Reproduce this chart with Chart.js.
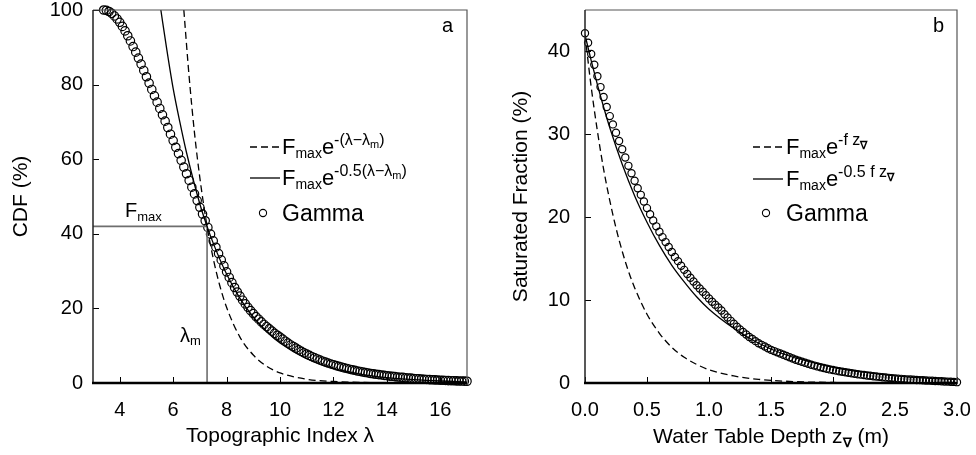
<!DOCTYPE html>
<html>
<head>
<meta charset="utf-8">
<script src="https://cdn.jsdelivr.net/npm/chart.js@4.4.0/dist/chart.umd.min.js"></script>
<style>
  body { margin: 0; background: #fff; width: 976px; height: 455px; overflow: hidden; position: relative; }
  .panel { position: absolute; top: 0; width: 488px; height: 455px; }
</style>
</head>
<body>
<div class="panel" style="left:0"><canvas id="chartA" width="488" height="455"></canvas></div>
<div class="panel" style="left:488px"><canvas id="chartB" width="488" height="455"></canvas></div>
<script>
// ---- panel a : CDF against topographic index ----
const lamTicks = [4, 6, 8, 10, 12, 14, 16];
const cdfTicks = [0, 20, 40, 60, 80, 100];

const gammaLamX = [3.4,3.5,3.6,3.7,3.8,3.9,4.0,4.1,4.2,4.3,4.4,4.5,4.6,4.7,4.8,4.9,5.0,5.1,5.2,5.3,5.4,5.5,5.6,5.7,5.8,5.9,
  6.0,6.1,6.2,6.3,6.4,6.5,6.6,6.7,6.8,6.9,7.0,7.1,7.2,7.3,7.4,7.5,7.6,7.7,7.8,7.9,8.0,8.1,8.2,8.3,8.4,8.5,8.6,8.7,8.8,8.9,
  9.0,9.1,9.2,9.3,9.4,9.5,9.6,9.7,9.8,9.9,10.0,10.1,10.2,10.3,10.4,10.5,10.6,10.7,10.8,10.9,11.0,11.1,11.2,11.3,11.4,11.5,
  11.6,11.7,11.8,11.9,12.0,12.1,12.2,12.3,12.4,12.5,12.6,12.7,12.8,12.9,13.0,13.1,13.2,13.3,13.4,13.5,13.6,13.7,13.8,13.9,
  14.0,14.1,14.2,14.3,14.4,14.5,14.6,14.7,14.8,14.9,15.0,15.1,15.2,15.3,15.4,15.5,15.6,15.7,15.8,15.9,16.0,16.1,16.2,16.3,
  16.4,16.5,16.6,16.7,16.8,16.9,17.0];
const gammaCdf = [100.0,99.9,99.6,99.1,98.4,97.6,96.7,95.6,94.4,93.1,91.7,90.2,88.7,87.1,85.5,83.8,82.1,80.4,78.7,77.0,75.3,73.6,71.9,70.2,68.5,66.7,
  65.0,63.2,61.5,59.7,57.9,56.1,54.3,52.5,50.7,48.9,47.1,45.3,43.5,41.7,39.9,38.1,36.4,34.7,33.0,31.4,29.8,28.3,26.9,25.6,24.4,23.3,22.2,21.2,20.3,19.4,
  18.6,17.8,17.1,16.4,15.7,15.1,14.5,13.9,13.3,12.8,12.3,11.75,11.2,10.7,10.2,9.8,9.35,8.9,8.5,8.1,7.75,7.4,7.05,6.75,6.45,6.15,
  5.85,5.6,5.35,5.1,4.9,4.65,4.45,4.25,4.05,3.9,3.7,3.55,3.4,3.2,3.1,2.95,2.8,2.7,2.55,2.45,2.35,2.25,2.15,2.05,
  1.95,1.85,1.8,1.7,1.6,1.55,1.5,1.4,1.35,1.3,1.2,1.15,1.1,1.05,1.0,0.95,0.9,0.87,0.83,0.8,0.75,0.72,0.68,0.65,
  0.62,0.6,0.57,0.54,0.52,0.5,0.47];

const expLamX = [6.4,6.6,6.8,7.0,7.27,7.5,7.75,8.0,8.5,9.0,9.5,10,11,12,13,14,15,17];
const expLamY = [100,82,67,55,42,33.4,26,20.3,12.3,7.5,4.5,2.7,1.0,0.4,0.15,0.05,0.02,0];
const halfLamX = [5.54,5.75,6.0,6.25,6.5,7.0,7.27,7.5,8,8.5,9,9.5,10,11,12,13,14,15,16,17];
const halfLamY = [100,90,79,70,61.8,48,42,37.5,29.2,22.7,17.7,13.8,10.7,6.5,3.95,2.4,1.45,0.88,0.53,0.32];

// F_max / lambda_m guide lines
const guideX = [3, 7.27, 7.27];
const guideY = [42, 42, 0];

// ---- panel b : saturated fraction against water table depth ----
const depthTicks = [0, 0.5, 1.0, 1.5, 2.0, 2.5, 3.0];
const satTicks = [0, 10, 20, 30, 40];

const gammaDepthX = [0,0.025,0.05,0.075,0.1,0.125,0.15,0.175,0.2,0.225,0.25,0.275,0.3,0.325,0.35,0.375,0.4,0.425,0.45,0.475,
  0.5,0.525,0.55,0.575,0.6,0.625,0.65,0.675,0.7,0.725,0.75,0.775,0.8,0.825,0.85,0.875,0.9,0.925,0.95,0.975,
  1.0,1.025,1.05,1.075,1.1,1.125,1.15,1.175,1.2,1.225,1.25,1.275,1.3,1.325,1.35,1.375,1.4,1.425,1.45,1.475,
  1.5,1.525,1.55,1.575,1.6,1.625,1.65,1.675,1.7,1.725,1.75,1.775,1.8,1.825,1.85,1.875,1.9,1.925,1.95,1.975,
  2.0,2.025,2.05,2.075,2.1,2.125,2.15,2.175,2.2,2.225,2.25,2.275,2.3,2.325,2.35,2.375,2.4,2.425,2.45,2.475,
  2.5,2.525,2.55,2.575,2.6,2.625,2.65,2.675,2.7,2.725,2.75,2.775,2.8,2.825,2.85,2.875,2.9,2.925,2.95,2.975,3.0];
const gammaSat = [42.2,41.05,39.7,38.4,37.0,35.7,34.5,33.3,32.2,31.2,30.2,29.2,28.2,27.2,26.2,25.3,24.4,23.5,22.7,21.9,
  21.1,20.35,19.6,18.9,18.25,17.6,17.0,16.4,15.8,15.2,14.7,14.15,13.65,13.15,12.7,12.25,11.8,11.4,11.0,10.6,
  10.2,9.8,9.45,9.1,8.75,8.3,7.9,7.5,7.15,6.8,6.45,6.15,5.85,5.55,5.3,5.05,4.8,4.6,4.4,4.2,
  4.0,3.85,3.7,3.55,3.4,3.25,3.1,2.95,2.8,2.68,2.56,2.44,2.32,2.2,2.1,2.0,1.9,1.81,1.72,1.64,
  1.56,1.49,1.42,1.35,1.29,1.23,1.17,1.11,1.06,1.01,0.96,0.91,0.87,0.82,0.78,0.74,0.7,0.66,0.62,0.59,
  0.56,0.53,0.5,0.47,0.44,0.42,0.39,0.37,0.35,0.33,0.31,0.29,0.27,0.25,0.23,0.21,0.19,0.17,0.15,0.13,0.1];

const expDepthX = [0,0.05,0.1,0.15,0.2,0.25,0.3,0.35,0.4,0.5,0.6,0.7,0.8,0.9,1.0,1.2,1.4,1.6,1.8,2.0,2.5,3.0];
const expDepthY = [42,35.7,30.4,25.8,22.0,18.7,15.9,13.5,11.5,8.3,6.0,4.3,3.1,2.25,1.6,0.85,0.44,0.23,0.12,0.06,0.01,0];
const halfDepthX = [0,0.05,0.1,0.15,0.2,0.3,0.4,0.5,0.6,0.7,0.8,0.9,1.0,1.2,1.4,1.6,1.8,2.0,2.25,2.5,2.75,3.0];
const halfDepthY = [42,38.9,36.0,33.3,30.8,26.4,22.6,19.4,16.6,14.2,12.2,10.4,8.9,6.6,4.8,3.5,2.6,1.9,1.3,0.87,0.59,0.4];

const FAMILY = '"Liberation Sans", Arial, Helvetica, sans-serif';
const pairs = (xs, ys) => xs.map((x, i) => ({ x: x, y: ys[i] }));

function rich(ctx, x, y, parts) {
  for (const p of parts) {
    ctx.font = (p.b ? 'bold ' : '') + p.s + 'px ' + FAMILY;
    ctx.fillText(p.t, x, y + (p.dy || 0));
    x += ctx.measureText(p.t).width;
  }
  return x;
}
function richWidth(ctx, parts) {
  let w = 0;
  for (const p of parts) {
    ctx.font = (p.b ? 'bold ' : '') + p.s + 'px ' + FAMILY;
    w += ctx.measureText(p.t).width;
  }
  return w;
}

// box round the plot with inward tick marks
const frame = {
  id: 'frame',
  afterDraw(chart) {
    const { ctx, chartArea: a, scales } = chart;
    ctx.save();
    ctx.strokeStyle = '#000';
    ctx.lineWidth = 1;
    ctx.beginPath();
    scales.x.ticks.forEach(t => {
      const px = Math.round(scales.x.getPixelForValue(t.value)) + 0.5;
      ctx.moveTo(px, a.bottom); ctx.lineTo(px, a.bottom - 6);
    });
    scales.y.ticks.forEach(t => {
      const py = Math.round(scales.y.getPixelForValue(t.value)) + 0.5;
      ctx.moveTo(a.left, py); ctx.lineTo(a.left + 6, py);
    });
    ctx.stroke();
    ctx.strokeStyle = '#555';
    ctx.lineWidth = 1.2;
    ctx.beginPath();
    ctx.moveTo(a.left, a.top); ctx.lineTo(a.right, a.top); ctx.lineTo(a.right, a.bottom);
    ctx.stroke();
    ctx.strokeStyle = '#222';
    ctx.lineWidth = 1.5;
    ctx.beginPath();
    ctx.moveTo(a.left, a.top); ctx.lineTo(a.left, a.bottom);
    ctx.stroke();
    ctx.strokeStyle = '#000';
    ctx.lineWidth = 2.5;
    ctx.beginPath();
    ctx.moveTo(a.left - 1, a.bottom); ctx.lineTo(a.right, a.bottom);
    ctx.stroke();
    ctx.restore();
  }
};

// legend rows and annotations with sub/superscripts
const notes = {
  id: 'notes',
  afterDraw(chart, args, o) {
    const ctx = chart.ctx;
    ctx.save();
    ctx.fillStyle = '#000';
    ctx.strokeStyle = '#000';
    ctx.textBaseline = 'alphabetic';
    ctx.textAlign = 'left';
    ctx.lineWidth = 1.3;
    ctx.setLineDash([7, 4]);
    ctx.beginPath(); ctx.moveTo(o.lx, o.rows[0] - 7); ctx.lineTo(o.lx + 30, o.rows[0] - 7); ctx.stroke();
    ctx.setLineDash([]);
    ctx.beginPath(); ctx.moveTo(o.lx, o.rows[1] - 7); ctx.lineTo(o.lx + 30, o.rows[1] - 7); ctx.stroke();
    ctx.lineWidth = 1.1;
    ctx.beginPath(); ctx.arc(o.lx + 13, o.rows[2] - 8, 3.6, 0, Math.PI * 2); ctx.stroke();
    rich(ctx, o.tx, o.rows[0], o.line1);
    rich(ctx, o.tx, o.rows[1], o.line2);
    rich(ctx, o.tx, o.rows[2], [{ t: 'Gamma', s: 23 }]);
    rich(ctx, o.letter[0], o.letter[1], [{ t: o.letter[2], s: 20 }]);
    (o.extra || []).forEach(e => rich(ctx, e.x, e.y, e.parts));
    if (o.xtitle) {
      const w = richWidth(ctx, o.xtitle);
      const cx = (chart.chartArea.left + chart.chartArea.right) / 2;
      rich(ctx, cx - w / 2, o.xtitleY, o.xtitle);
    }
    ctx.restore();
  }
};

const tickFont = { family: FAMILY, size: 20 };
const titleFont = { family: FAMILY, size: 21 };
const noGrid = { display: false, drawTicks: false };

function fixTicks(values) {
  return scale => { scale.ticks = values.map(v => ({ value: v })); };
}
// fixed axis boxes, no extra room for label overflow
function fitX(h) {
  return s => { s.height = h; s.paddingLeft = 0; s.paddingRight = 0; };
}
function fitY(w) {
  return s => { s.width = w; s.paddingTop = 0; s.paddingBottom = 0; };
}

function lineSet(xs, ys, dashed) {
  return {
    data: pairs(xs, ys), showLine: true, borderColor: '#000', borderWidth: 1.3,
    borderDash: dashed ? [7, 4] : [], pointRadius: 0, cubicInterpolationMode: 'monotone'
  };
}
function circleSet(xs, ys, r) {
  return {
    data: pairs(xs, ys), showLine: false, pointRadius: r, pointBorderWidth: 1.2,
    pointBorderColor: '#000', pointBackgroundColor: 'rgba(255,255,255,0)', clip: false
  };
}

new Chart(document.getElementById('chartA'), {
  type: 'scatter',
  data: {
    datasets: [
      lineSet(expLamX, expLamY, true),
      lineSet(halfLamX, halfLamY, false),
      { data: pairs(guideX, guideY), showLine: true, borderColor: '#6e6e6e', borderWidth: 1.6, pointRadius: 0, tension: 0 },
      circleSet(gammaLamX, gammaCdf, 4.2)
    ]
  },
  options: {
    responsive: false, animation: false, events: [],
    layout: { padding: { top: 10, right: 21, left: 0, bottom: 0 } },
    plugins: {
      legend: { display: false }, tooltip: { enabled: false },
      notes: {
        lx: 250, tx: 282, rows: [154, 185, 221], letter: [442, 32, 'a'],
        line1: [{ t: 'F', s: 22 }, { t: 'max', s: 14, dy: 4 }, { t: 'e', s: 22 },
                { t: '-(λ−λ', s: 16, dy: -9 }, { t: 'm', s: 11, dy: -6 }, { t: ')', s: 16, dy: -9 }],
        line2: [{ t: 'F', s: 22 }, { t: 'max', s: 14, dy: 4 }, { t: 'e', s: 22 },
                { t: '-0.5(λ−λ', s: 16, dy: -9 }, { t: 'm', s: 11, dy: -6 }, { t: ')', s: 16, dy: -9 }],
        extra: [
          { x: 125, y: 217, parts: [{ t: 'F', s: 20 }, { t: 'max', s: 13, dy: 4 }] },
          { x: 180, y: 342, parts: [{ t: 'λ', s: 20 }, { t: 'm', s: 13, dy: 3 }] }
        ]
      }
    },
    scales: {
      x: {
        type: 'linear', min: 3, max: 17,
        afterBuildTicks: fixTicks(lamTicks),
        afterFit: fitX(72),
        grid: noGrid, border: { display: false },
        ticks: { font: tickFont, color: '#000', padding: 15, maxRotation: 0 },
        title: { display: true, text: 'Topographic Index λ', font: titleFont, color: '#000', padding: { top: 0, bottom: 6 } }
      },
      y: {
        type: 'linear', min: 0, max: 100,
        afterBuildTicks: fixTicks(cdfTicks),
        afterFit: fitY(93),
        grid: noGrid, border: { display: false },
        ticks: { font: tickFont, color: '#000', padding: 10 },
        title: { display: true, text: 'CDF (%)', font: titleFont, color: '#000', padding: { top: 9, bottom: 0 } }
      }
    }
  },
  plugins: [frame, notes]
});

new Chart(document.getElementById('chartB'), {
  type: 'scatter',
  data: {
    datasets: [
      lineSet(expDepthX, expDepthY, true),
      lineSet(halfDepthX, halfDepthY, false),
      circleSet(gammaDepthX, gammaSat, 3.6)
    ]
  },
  options: {
    responsive: false, animation: false, events: [],
    layout: { padding: { top: 10, right: 19, left: 0, bottom: 0 } },
    plugins: {
      legend: { display: false }, tooltip: { enabled: false },
      notes: {
        lx: 265, tx: 298, rows: [154, 186, 221], letter: [445, 32, 'b'],
        line1: [{ t: 'F', s: 22 }, { t: 'max', s: 14, dy: 4 }, { t: 'e', s: 22 },
                { t: '-f z', s: 16, dy: -9 }, { t: '∇', s: 11, b: true, dy: -5 }],
        line2: [{ t: 'F', s: 22 }, { t: 'max', s: 14, dy: 4 }, { t: 'e', s: 22 },
                { t: '-0.5 f z', s: 16, dy: -9 }, { t: '∇', s: 11, b: true, dy: -5 }],
        xtitle: [{ t: 'Water Table Depth z', s: 21 }, { t: '∇', s: 13, b: true, dy: 4 }, { t: ' (m)', s: 21 }],
        xtitleY: 443
      }
    },
    scales: {
      x: {
        type: 'linear', min: 0, max: 3,
        afterBuildTicks: fixTicks(depthTicks),
        afterFit: fitX(72),
        grid: noGrid, border: { display: false },
        ticks: { font: tickFont, color: '#000', padding: 15, maxRotation: 0, callback: v => v.toFixed(1) },
        title: { display: false }
      },
      y: {
        type: 'linear', min: 0, max: 45,
        afterBuildTicks: fixTicks(satTicks),
        afterFit: fitY(97),
        grid: noGrid, border: { display: false },
        ticks: { font: tickFont, color: '#000', padding: 15 },
        title: { display: true, text: 'Saturated Fraction (%)', font: titleFont, color: '#000', padding: { top: 21, bottom: 0 } }
      }
    }
  },
  plugins: [frame, notes]
});
</script>
</body>
</html>
